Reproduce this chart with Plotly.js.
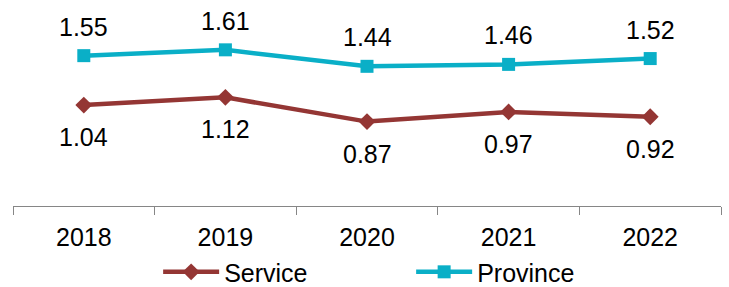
<!DOCTYPE html>
<html>
<head>
<meta charset="utf-8">
<script src="https://cdn.plot.ly/plotly-3.0.1.min.js"></script>
<style>html,body{margin:0;padding:0;background:#fff;}#chart{width:729px;height:287px;}</style>
</head>
<body>
<div id="chart"></div>
<script>
const years = ["2018", "2019", "2020", "2021", "2022"];
const serviceValues = [1.04, 1.12, 0.87, 0.97, 0.92];
const provinceValues = [1.55, 1.61, 1.44, 1.46, 1.52];
const seriesNames = ["Service", "Province"];

const serviceColor = "#943634";
const provinceColor = "#0AAFC7";
const fontFamily = "Liberation Sans, Arial, sans-serif";

const traces = [
  {
    x: years, y: serviceValues, name: seriesNames[0], type: "scatter", mode: "lines+markers",
    line: {color: serviceColor, width: 4.5},
    marker: {symbol: "diamond", size: 13, color: serviceColor}
  },
  {
    x: years, y: provinceValues, name: seriesNames[1], type: "scatter", mode: "lines+markers",
    line: {color: provinceColor, width: 4.5},
    marker: {symbol: "square", size: 13, color: provinceColor}
  }
];

const annotations = [];
for (let i = 0; i < years.length; i++) {
  annotations.push({xref: "x", yref: "y", x: i, y: provinceValues[i], text: provinceValues[i].toFixed(2),
    showarrow: false, yshift: 29, font: {size: 25, color: "#000000", family: fontFamily}});
  annotations.push({xref: "x", yref: "y", x: i, y: serviceValues[i], text: serviceValues[i].toFixed(2),
    showarrow: false, yshift: -32, font: {size: 25, color: "#000000", family: fontFamily}});
}

const layout = {
  width: 729, height: 287,
  margin: {l: 13, r: 8, t: 12, b: 81},
  paper_bgcolor: "#fff", plot_bgcolor: "#fff",
  font: {family: fontFamily, size: 25, color: "#000"},
  showlegend: true,
  legend: {orientation: "h", x: 0.205, xanchor: "left", yref: "container", y: 0.052, yanchor: "middle",
    font: {size: 25, color: "#000", family: fontFamily}, entrywidth: 182, itemwidth: 56},
  xaxis: {type: "category", range: [-0.5, 4.5], showgrid: false, zeroline: false,
    showline: true, linecolor: "#868686", linewidth: 1,
    ticks: "outside", tickson: "boundaries", ticklen: 8, tickcolor: "#868686", tickwidth: 1,
    ticklabelstandoff: 9,
    tickfont: {size: 25, color: "#000", family: fontFamily}, automargin: false},
  yaxis: {range: [0, 2], visible: false, showgrid: false, zeroline: false, automargin: false},
  annotations: annotations
};

Plotly.newPlot("chart", traces, layout, {displayModeBar: false});
</script>
</body>
</html>
